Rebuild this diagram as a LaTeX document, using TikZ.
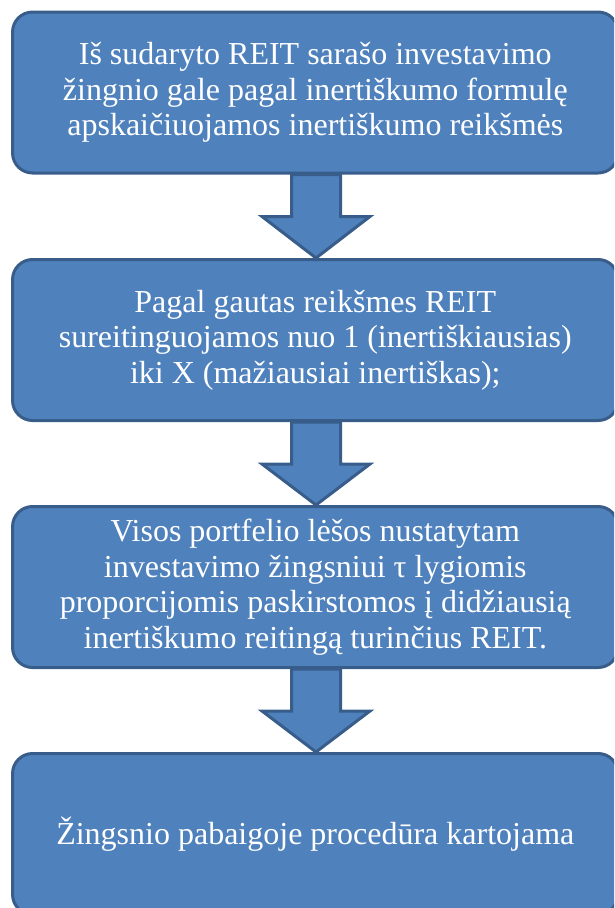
\documentclass[tikz,border=0pt]{standalone}
\usepackage{fontspec}
\setmainfont{Liberation Serif}
\usetikzlibrary{calc}
\definecolor{boxfill}{HTML}{4F81BD}
\definecolor{boxline}{HTML}{385D8A}
\tikzset{
  stepbox/.style={draw=boxline, fill=boxfill, line width=3pt, rounded corners=20pt,
    minimum width=605.5pt, minimum height=161pt, inner sep=0pt,
    text=white, align=center,
    font=\fontsize{32}{35.5}\selectfont},
  blockarrow/.style={draw=boxline, fill=boxfill, line width=3pt, line join=miter}
}
\begin{document}
\begin{tikzpicture}[x=1pt, y=-1pt]
  \useasboundingbox (0,0) rectangle (614,908);
  \clip (0,0) rectangle (614,908);

  \node[stepbox] (b1) at (315.3,92.5) {Iš sudaryto REIT sarašo investavimo\\žingnio gale pagal inertiškumo formulę\\apskaičiuojamos inertiškumo reikšmės};
  \node[stepbox] (b2) at (315.3,340) {Pagal gautas reikšmes REIT\\sureitinguojamos nuo 1 (inertiškiausias)\\iki X (mažiausiai inertiškas);};
  \node[stepbox] (b3) at (315.3,587) {Visos portfelio lėšos nustatytam\\investavimo žingsniui τ lygiomis\\proporcijomis paskirstomos į didžiausią\\inertiškumo reitingą turinčius REIT.};
  \node[stepbox] (b4) at (315.3,834) {Žingsnio pabaigoje procedūra kartojama};

  % fat down arrows joining consecutive steps
  \foreach \a/\b in {b1/b2, b2/b3, b3/b4}{
    \path[blockarrow]
      let \p1 = ($(\a.south)+(0.7,0)$), \p2 = (\b.north) in
      (\x1-24.5pt,\y1) -- (\x1-24.5pt,\y1-42pt) -- (\x1-54pt,\y1-42pt)
      -- (\x1,\y2) -- (\x1+54pt,\y1-42pt) -- (\x1+24.5pt,\y1-42pt)
      -- (\x1+24.5pt,\y1) -- cycle;
  }
\end{tikzpicture}
\end{document}
